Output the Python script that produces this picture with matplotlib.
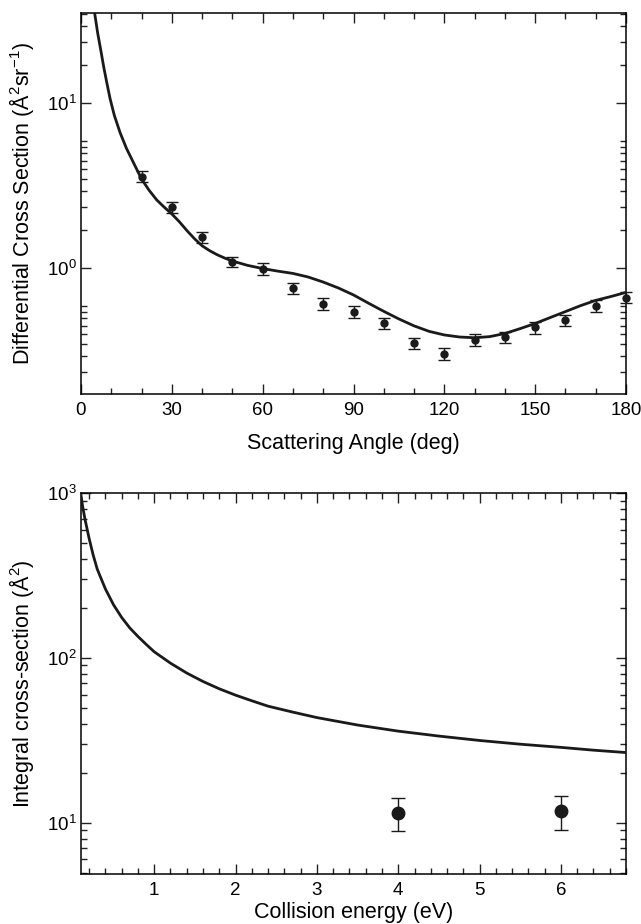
import numpy as np
import matplotlib
matplotlib.use("Agg")
import matplotlib.pyplot as plt
from matplotlib.ticker import FixedLocator, NullFormatter, LogLocator, MultipleLocator

plt.rcParams['font.family'] = ['Liberation Sans', 'DejaVu Sans']
plt.rcParams['mathtext.fontset'] = 'custom'
plt.rcParams['mathtext.rm'] = 'Liberation Sans'
plt.rcParams['mathtext.it'] = 'Liberation Sans:italic'
plt.rcParams['mathtext.bf'] = 'Liberation Sans:bold'

# ---- top panel: differential cross section ----
dcs_angle = [20, 30, 40, 50, 60, 70, 80, 90, 100, 110, 120, 130, 140, 150, 160, 170, 180]
dcs_value = [3.57, 2.33, 1.53, 1.087, 0.99, 0.75, 0.605, 0.543, 0.462, 0.349, 0.301,
             0.366, 0.38, 0.435, 0.48, 0.59, 0.66]
dcs_err = [0.28, 0.18, 0.12, 0.08, 0.08, 0.06, 0.05, 0.045, 0.038, 0.028, 0.025,
           0.03, 0.03, 0.035, 0.038, 0.047, 0.05]

theory_angle = [4.5, 5.5, 6.5, 7.5, 8.5, 9.6, 11.0, 12.9, 15.0, 17.3, 20.0, 22.5, 25.0,
                27.5, 30.0, 32.5, 35.0, 37.5, 40.0, 42.5, 45.0, 47.5, 50.0, 55.0, 60.0,
                65.0, 70.0, 75.0, 80.0, 85.0, 90.0, 95.0, 100.0, 105.0, 110.0, 115.0,
                120.0, 125.0, 130.0, 135.0, 140.0, 145.0, 150.0, 155.0, 160.0, 165.0,
                170.0, 175.0, 180.0]
theory_value = [35.0, 26.5, 21.0, 16.5, 13.3, 10.6, 8.4, 6.6, 5.3, 4.35, 3.45, 2.95, 2.58,
                2.33, 2.12, 1.90, 1.68, 1.50, 1.36, 1.27, 1.20, 1.145, 1.10, 1.035, 0.99,
                0.955, 0.925, 0.88, 0.82, 0.755, 0.685, 0.61, 0.545, 0.49, 0.445, 0.412,
                0.392, 0.381, 0.377, 0.383, 0.40, 0.428, 0.46, 0.50, 0.543, 0.59,
                0.635, 0.67, 0.71]

# ---- bottom panel: integral cross section ----
ics_energy = [4.0, 6.0]
ics_value = [11.5, 11.8]
ics_err_low = [2.6, 2.7]
ics_err_high = [2.6, 2.7]

curve_energy = [0.1, 0.12, 0.15, 0.2, 0.25, 0.3, 0.4, 0.5, 0.6, 0.7, 0.8, 0.9, 1.0, 1.2,
                1.4, 1.6, 1.8, 2.0, 2.2, 2.4, 2.7, 3.0, 3.5, 4.0, 4.5, 5.0, 5.5, 6.0,
                6.4, 6.8]
curve_value = [970, 830, 690, 530, 420, 345, 262, 210, 176, 152, 135, 121, 109, 93,
               81, 72, 65, 59.5, 55, 51, 47, 43.5, 39.2, 36, 33.6, 31.6, 30.0, 28.7,
               27.6, 26.7]

fig = plt.figure(figsize=(6.41, 9.24), dpi=100)
W, H = 641.0, 924.0
ax1 = fig.add_axes([81 / W, 1 - 394 / H, 545 / W, 381 / H])
ax2 = fig.add_axes([81 / W, 1 - 874 / H, 545 / W, 381 / H])

LW_SPINE = 1.1
TICK_FS = 13.5
LABEL_FS = 15.5

for ax in (ax1, ax2):
    for s in ax.spines.values():
        s.set_linewidth(LW_SPINE)
    ax.tick_params(which='both', direction='in', top=True, right=True,
                   width=1.0, labelsize=TICK_FS, color='#222222')
    ax.tick_params(which='major', length=7.5)
    ax.tick_params(which='minor', length=4)
    ax.tick_params(axis='x', pad=6)
    ax.tick_params(axis='y', pad=3)

# top panel
ax1.plot(theory_angle, theory_value, color='#1a1a1a', lw=2.0, zorder=3,
         solid_joinstyle='round')
ax1.errorbar(dcs_angle, dcs_value, yerr=dcs_err, fmt='o', color='#1a1a1a',
             ms=5, capsize=4, elinewidth=1.0, capthick=1.0, zorder=4, clip_on=False)
ax1.set_yscale('log')
ax1.set_xlim(0, 180)
ax1.set_ylim(0.172, 35)
ax1.xaxis.set_major_locator(MultipleLocator(30))
ax1.xaxis.set_minor_locator(MultipleLocator(10))
ax1.yaxis.set_major_locator(FixedLocator([1, 10]))
minor_top = [10 ** (d + np.log10(k) / np.log10(20)) for d in (-1, 0, 1) for k in range(2, 11)]
ax1.yaxis.set_minor_locator(FixedLocator(minor_top))
ax1.yaxis.set_minor_formatter(NullFormatter())
ax1.set_yticklabels([r'$\mathdefault{10^{0}}$', r'$\mathdefault{10^{1}}$'])
ax1.set_xlabel('Scattering Angle (deg)', fontsize=LABEL_FS, labelpad=10)
ax1.set_ylabel(r'Differential Cross Section (Å$^{2}$sr$^{-1}$)', fontsize=LABEL_FS, labelpad=8)

# bottom panel
ax2.plot(curve_energy, curve_value, color='#1a1a1a', lw=2.0, zorder=3,
         solid_joinstyle='round')
ax2.errorbar(ics_energy, ics_value, yerr=[ics_err_low, ics_err_high], fmt='o',
             color='#1a1a1a', ms=9, capsize=5, elinewidth=1.0, capthick=1.0, zorder=4)
ax2.set_yscale('log')
ax2.set_xlim(0.1, 6.8)
ax2.set_ylim(4.9, 1000)
ax2.xaxis.set_major_locator(MultipleLocator(1))
ax2.xaxis.set_minor_locator(MultipleLocator(0.2))
ax2.yaxis.set_major_locator(LogLocator(base=10, numticks=10))
ax2.yaxis.set_minor_locator(LogLocator(base=10, subs=np.arange(2, 10), numticks=20))
ax2.yaxis.set_minor_formatter(NullFormatter())
ax2.set_xlabel('Collision energy (eV)', fontsize=LABEL_FS, labelpad=2)
ax2.set_ylabel(r'Integral cross-section (Å$^{2}$)', fontsize=LABEL_FS, labelpad=8)

fig.savefig('out.png', dpi=100)
